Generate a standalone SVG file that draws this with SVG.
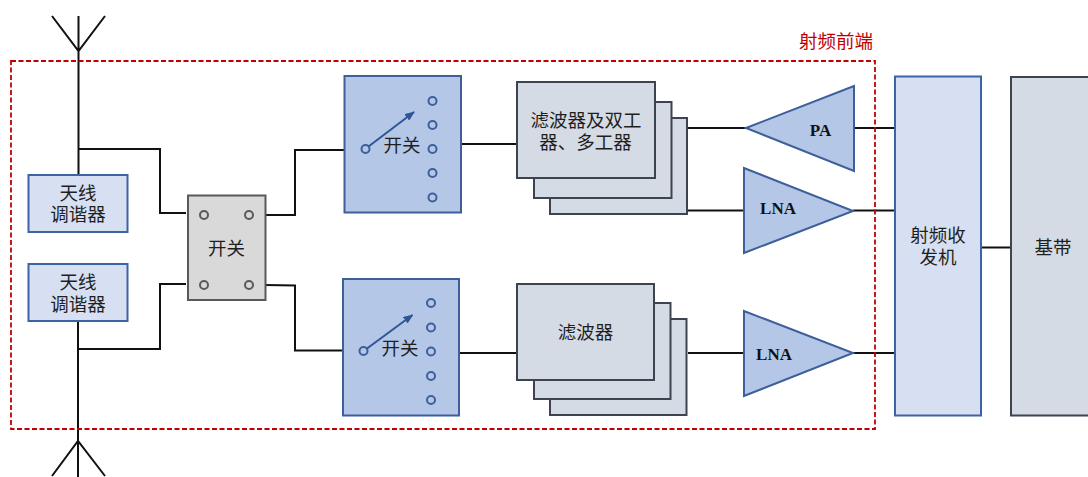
<svg xmlns="http://www.w3.org/2000/svg" width="1088" height="477" viewBox="0 0 1088 477">
<style>
text{font-family:"Liberation Serif","Noto Sans CJK SC",serif;font-size:18.500px;fill:#1f1f1f;text-anchor:middle;dominant-baseline:central}
.b{font-weight:bold;font-size:17px;fill:#111}
.w{fill:none;stroke:#111;stroke-width:2}
.lb{fill:#d6e0f2;stroke:#3d63a5;stroke-width:2}
.db{fill:#b4c7e7;stroke:#3d5f9a;stroke-width:2}
.fl{fill:#d5dbe5;stroke:#3e4350;stroke-width:2}
.gr{fill:#d9d9d9;stroke:#595959;stroke-width:2}
.cb{fill:none;stroke:#3d5f9a;stroke-width:2}
.cg{fill:none;stroke:#595959;stroke-width:2}
</style>
<defs><marker id="ah" markerWidth="10" markerHeight="8" refX="9" refY="4" orient="auto" markerUnits="userSpaceOnUse"><path d="M0 0L10 4L0 8z" fill="#2f5597"/></marker></defs>
<g id="connectors">
<path class="w" d="M78.500 16V174M52 16L78.500 51L105 16"/>
<path class="w" d="M78 149H160V213H186"/>
<path class="w" d="M78 321V477M52 476L78 441L105 476"/>
<path class="w" d="M78 349H160V284H186"/>
<path class="w" d="M265 215H295V150H345"/>
<path class="w" d="M265 285L295 285.500V350.500H343"/>
<path class="w" d="M461 144H517M459 353H517"/>
<path class="w" d="M687 128H746M687 210.500H744M688 353H744"/>
<path class="w" d="M854 128H895M853 210.500H895M853 353H895M981 247.500H1011"/>
</g>
<g id="tuner1"><rect class="lb" x="28.500" y="175" width="99" height="57"/><text x="78" y="193.500">天线</text><text x="78" y="215">调谐器</text></g>
<g id="tuner2"><rect class="lb" x="28.500" y="264" width="99" height="57"/><text x="78" y="283">天线</text><text x="78" y="305">调谐器</text></g>
<g id="switch-main"><rect class="gr" x="188" y="195.500" width="77.500" height="104.500"/><circle class="cg" cx="204" cy="215" r="4"/><circle class="cg" cx="249" cy="215" r="4"/><circle class="cg" cx="204" cy="285" r="4"/><circle class="cg" cx="249" cy="285" r="4"/><text x="226.500" y="249">开关</text></g>
<g id="switch-top"><rect class="db" x="344.500" y="76" width="116.500" height="136.500"/><circle class="cb" cx="365.500" cy="149" r="4"/><path d="M368.500 146.500L414 112" fill="none" stroke="#2f5597" stroke-width="2" marker-end="url(#ah)"/><circle class="cb" cx="432.500" cy="101" r="4"/><circle class="cb" cx="432.500" cy="125" r="4"/><circle class="cb" cx="432.500" cy="149" r="4"/><circle class="cb" cx="432.500" cy="173" r="4"/><circle class="cb" cx="432.500" cy="197.500" r="4"/><text x="402" y="146">开关</text></g>
<g id="switch-bottom"><rect class="db" x="343" y="279" width="116" height="136.500"/><circle class="cb" cx="363.500" cy="351" r="4"/><path d="M367 348.500L412.500 315" fill="none" stroke="#2f5597" stroke-width="2" marker-end="url(#ah)"/><circle class="cb" cx="431" cy="303" r="4"/><circle class="cb" cx="431" cy="327.500" r="4"/><circle class="cb" cx="431" cy="351.500" r="4"/><circle class="cb" cx="431" cy="376" r="4"/><circle class="cb" cx="431" cy="400" r="4"/><text x="400" y="349">开关</text></g>
<g id="filter-top"><rect class="fl" x="550" y="118" width="137" height="96"/><rect class="fl" x="534" y="102" width="137.500" height="96"/><rect class="fl" x="517" y="82" width="138" height="96"/><text x="586" y="121">滤波器及双工</text><text x="585.500" y="143">器、多工器</text></g>
<g id="filter-bottom"><rect class="fl" x="550" y="319" width="136.500" height="96"/><rect class="fl" x="534" y="303" width="136.500" height="96"/><rect class="fl" x="517" y="284" width="137" height="96"/><text x="585.500" y="333">滤波器</text></g>
<g id="pa"><path class="db" d="M746 128L854 86V171z"/><text class="b" x="820.500" y="130">PA</text></g>
<g id="lna-top"><path class="db" d="M744 168V253L853 211z"/><text class="b" x="778" y="208">LNA</text></g>
<g id="lna-bottom"><path class="db" d="M744 311V396L853 353z"/><text class="b" x="774" y="354">LNA</text></g>
<g id="transceiver"><rect class="lb" x="895" y="76.500" width="86" height="339"/><text x="938" y="236">射频收</text><text x="938" y="258">发机</text></g>
<g id="baseband"><rect class="fl" x="1011" y="77" width="79" height="338.500"/><text x="1053" y="248">基带</text></g>
<g id="rf-frontend"><rect x="11" y="61" width="864" height="368" fill="none" stroke="#c00000" stroke-width="1.800" stroke-dasharray="5 2.500"/><text x="836" y="42" style="fill:#c00000">射频前端</text></g>
</svg>
